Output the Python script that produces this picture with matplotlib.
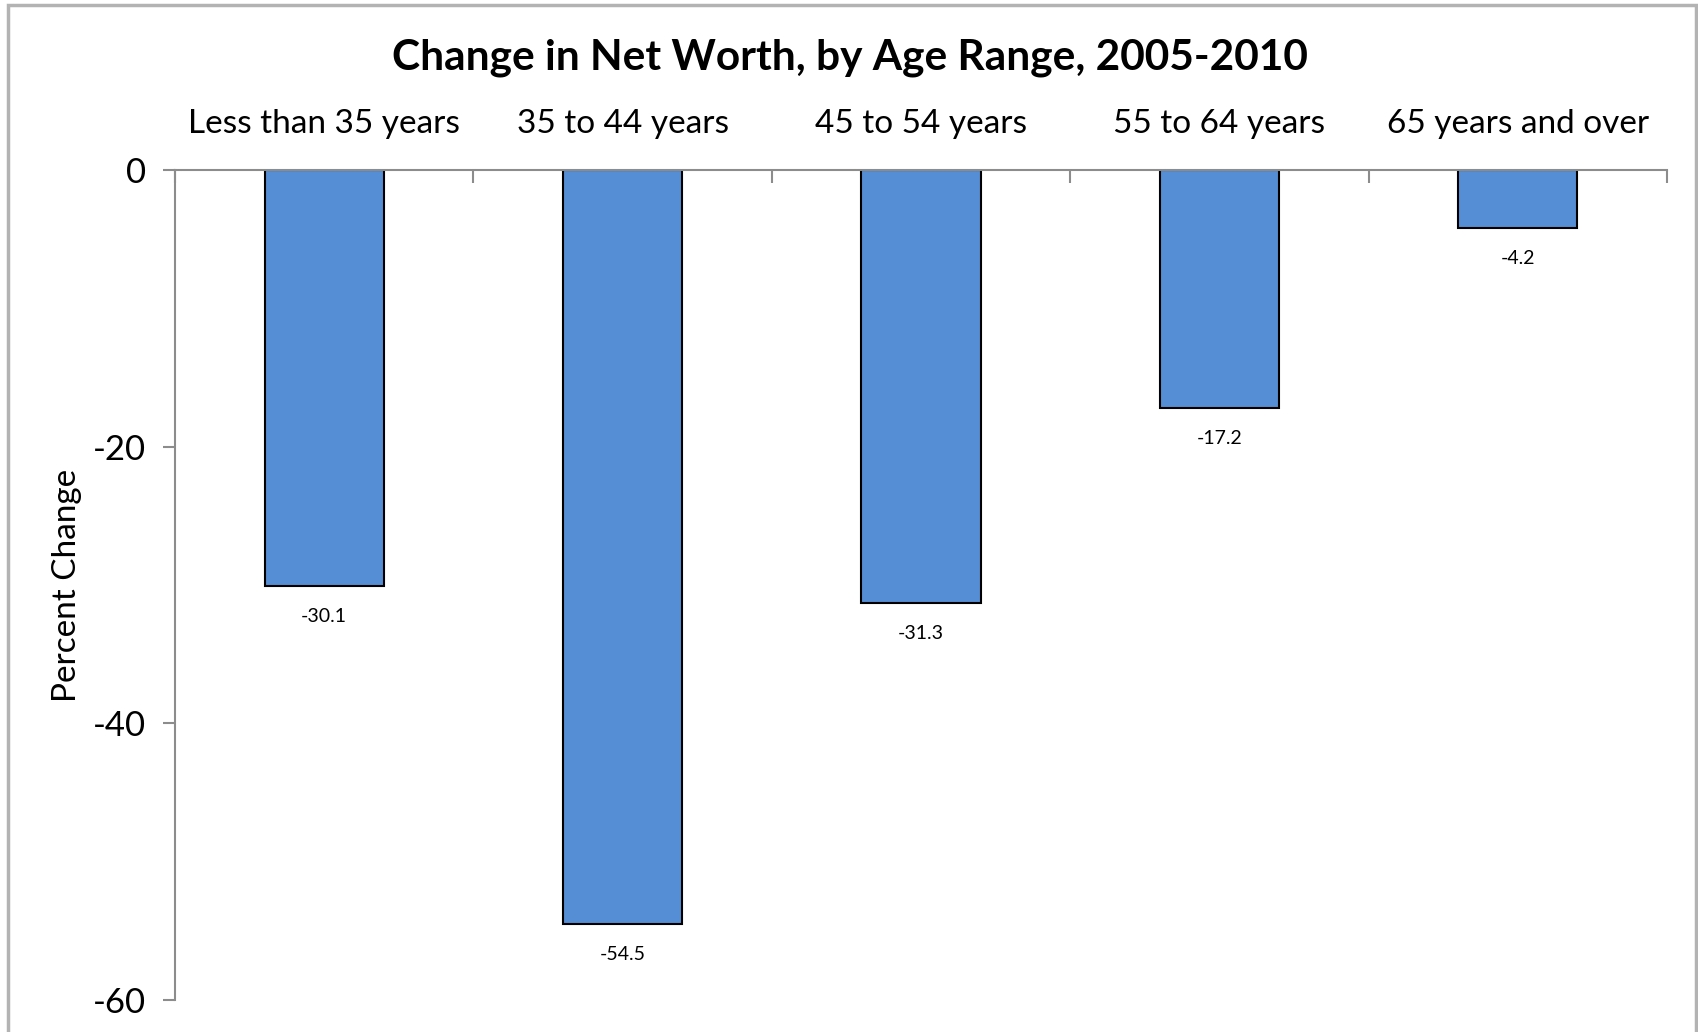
import numpy as np
import matplotlib.pyplot as plt
from matplotlib.patches import Rectangle

# age ranges and percent change in net worth
age_ranges = ['Less than 35 years', '35 to 44 years', '45 to 54 years',
              '55 to 64 years', '65 years and over']
pct_change = [-30.1, -54.5, -31.3, -17.2, -4.2]
y_ticks = [0, -20, -40, -60]

plt.rcParams['font.family'] = ['Lato', 'DejaVu Sans']
plt.rcParams['axes.unicode_minus'] = False

fig = plt.figure(figsize=(16.99, 10.32), dpi=100)
ax = fig.add_axes([175 / 1699, 1 - 1000 / 1032, 1492 / 1699, 830 / 1032])

# chart frame (bottom edge runs off the image)
fig.patches.append(Rectangle((8 / 1699, -0.1), 1688 / 1699, 1.1 - 5 / 1032,
                             transform=fig.transFigure, fill=False,
                             edgecolor='#b3b3b3', linewidth=2.5))

x = np.arange(len(age_ranges))
ax.bar(x, pct_change, width=0.4, color='#558ed5', edgecolor='black', linewidth=1.5)

for xi, v in zip(x, pct_change):
    ax.annotate(f'{v:.1f}', (xi, v), xytext=(0, -22), textcoords='offset points',
                ha='center', va='center', fontsize=14)

ax.set_xlim(-0.5, len(age_ranges) - 0.5)
ax.set_ylim(-60, 0)

for s in ['right', 'bottom']:
    ax.spines[s].set_visible(False)
ax.spines['left'].set_color('#8c8c8c')
ax.spines['top'].set_color('#8c8c8c')
ax.spines['left'].set_linewidth(1.5)
ax.spines['top'].set_linewidth(1.5)

ax.xaxis.tick_top()
ax.set_xticks(x)
ax.set_xticklabels(age_ranges, fontsize=24)
ax.tick_params(axis='x', which='major', length=0, pad=22)
ax.set_xticks(np.arange(len(age_ranges) + 1) - 0.5, minor=True)
ax.tick_params(axis='x', which='minor', direction='in', length=9, width=1.5, color='#8c8c8c')

ax.set_yticks(y_ticks)
ax.tick_params(axis='y', length=9, width=1.5, color='#8c8c8c', labelsize=25, pad=12)
ax.set_ylabel('Percent Change', fontsize=24, labelpad=8)

fig.text(0.5, 1 - 58 / 1032, 'Change in Net Worth, by Age Range, 2005-2010',
         ha='center', va='center', fontsize=30.5, fontweight='bold')

fig.savefig('out.png', dpi=100)
